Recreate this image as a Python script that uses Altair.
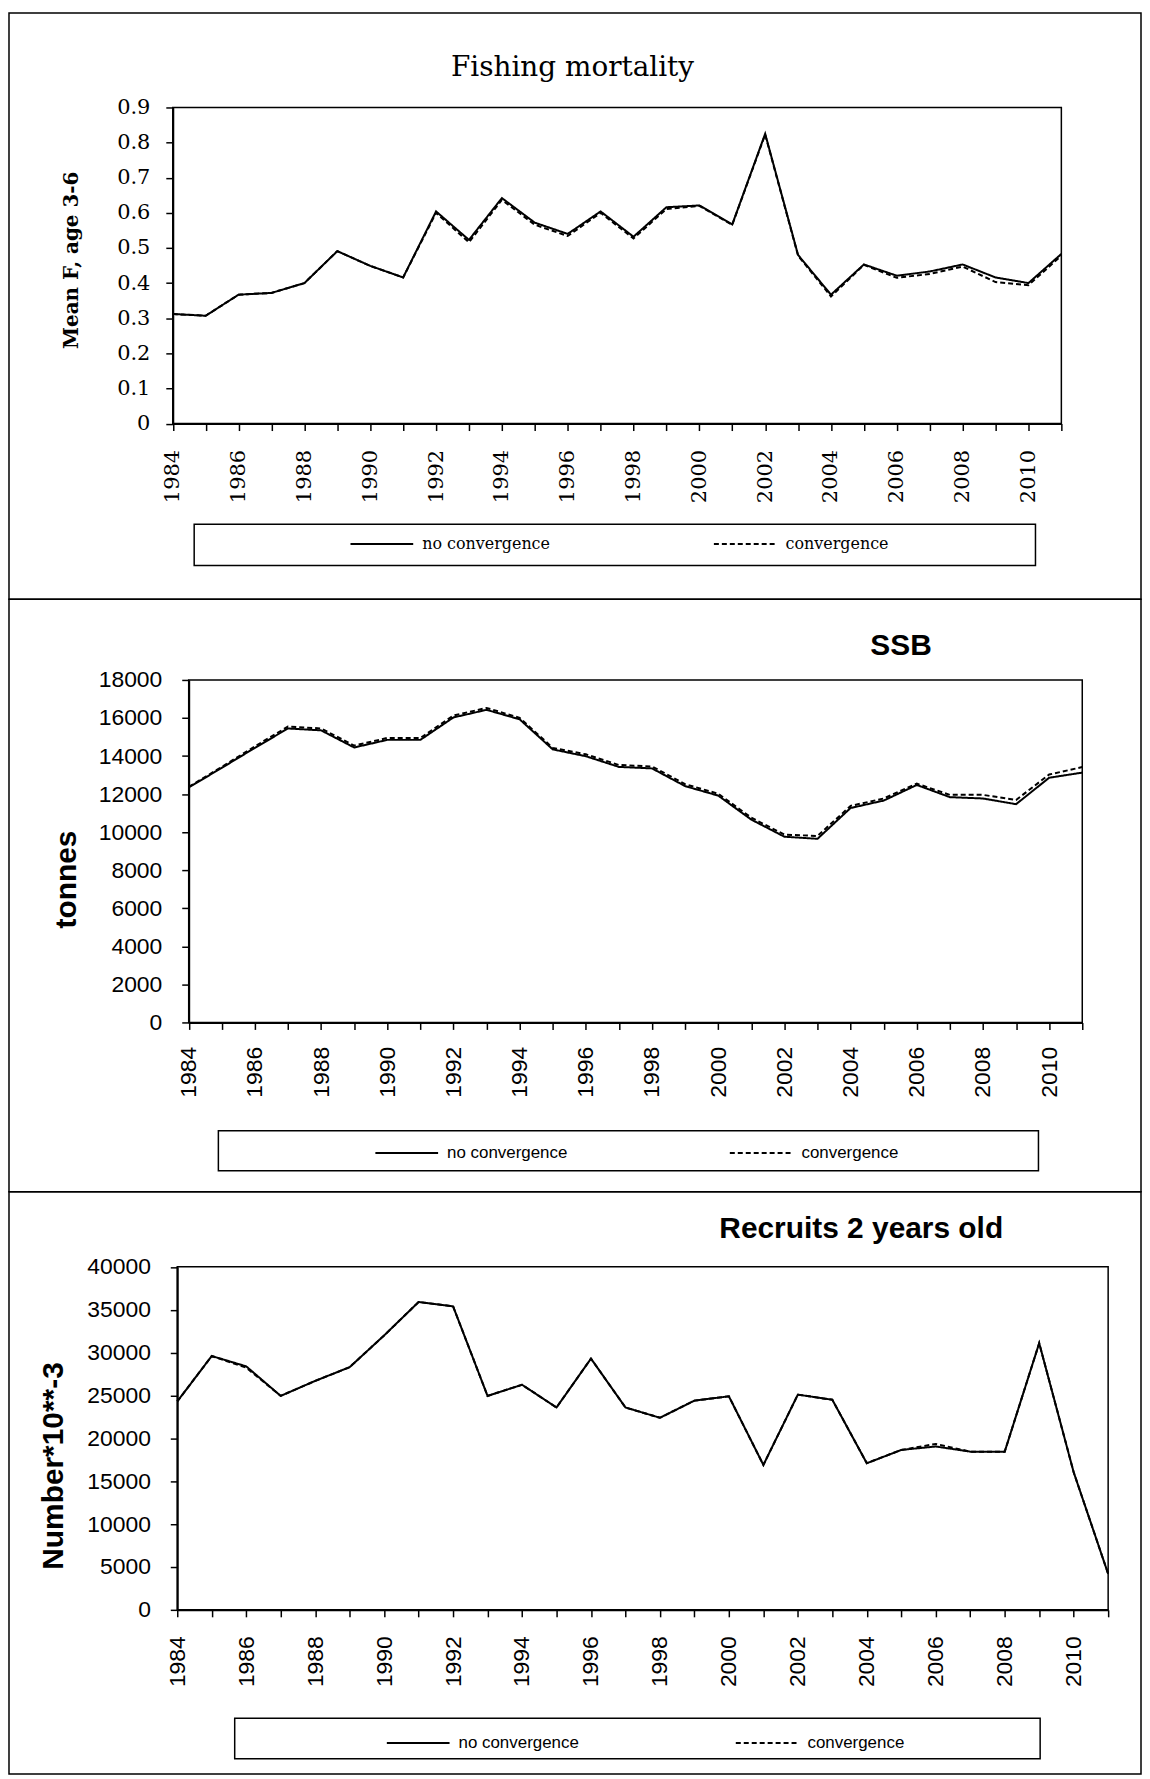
import altair as alt
import pandas as pd

years = [1984, 1985, 1986, 1987, 1988, 1989, 1990, 1991, 1992, 1993,
         1994, 1995, 1996, 1997, 1998, 1999, 2000, 2001, 2002, 2003,
         2004, 2005, 2006, 2007, 2008, 2009, 2010, 2011]
series_names = ["no convergence", "convergence"]

f_noconv = [0.312, 0.307, 0.367, 0.372, 0.400, 0.491, 0.449, 0.416, 0.604, 0.523,
            0.642, 0.572, 0.540, 0.604, 0.532, 0.616, 0.621, 0.567, 0.825, 0.480,
            0.367, 0.453, 0.421, 0.433, 0.453, 0.416, 0.400, 0.483]
f_conv = [0.312, 0.307, 0.367, 0.372, 0.400, 0.491, 0.449, 0.416, 0.600, 0.516,
          0.637, 0.566, 0.534, 0.600, 0.527, 0.611, 0.620, 0.566, 0.823, 0.478,
          0.362, 0.452, 0.415, 0.426, 0.447, 0.403, 0.394, 0.478]

ssb_noconv = [12350, 13380, 14430, 15450, 15350, 14450, 14850, 14850, 16030, 16430,
              15930, 14350, 13990, 13430, 13350, 12420, 11920, 10660, 9760, 9650,
              11270, 11660, 12480, 11840, 11770, 11470, 12860, 13130]
ssb_conv = [12380, 13430, 14510, 15550, 15450, 14550, 14950, 14950, 16130, 16530,
            16010, 14430, 14090, 13530, 13450, 12520, 12020, 10760, 9870, 9800,
            11380, 11770, 12550, 11960, 11960, 11690, 13030, 13420]

rec_noconv = [24300, 29600, 28400, 24950, 26700, 28300, 32000, 35900, 35400, 24950,
              26250, 23600, 29300, 23600, 22400, 24400, 24900, 16900, 25100, 24500,
              17100, 18650, 19050, 18450, 18450, 31100, 16050, 4200]
rec_conv = [24300, 29600, 28250, 24950, 26700, 28300, 32000, 35900, 35400, 24950,
            26250, 23600, 29300, 23600, 22400, 24400, 24900, 16900, 25100, 24500,
            17100, 18650, 19350, 18450, 18450, 31100, 16050, 4200]

f_ticks = [0, 0.1, 0.2, 0.3, 0.4, 0.5, 0.6, 0.7, 0.8, 0.9]
ssb_ticks = [0, 2000, 4000, 6000, 8000, 10000, 12000, 14000, 16000, 18000]
rec_ticks = [0, 5000, 10000, 15000, 20000, 25000, 30000, 35000, 40000]

PANEL_W = 1137


def long_df(a, b):
    return pd.DataFrame({
        "year": years + years,
        "value": a + b,
        "series": [series_names[0]] * len(years) + [series_names[1]] * len(years),
    })


def panel(df, cfg):
    font = cfg["font"]
    xr = cfg["xrange"]
    yr = cfg["yrange"]
    ymax = cfg["yticks"][-1]
    xscale = alt.Scale(domain=[years[0], years[-1]], range=xr, nice=False, zero=False)
    yscale = alt.Scale(domain=[0, ymax], range=yr, nice=False)

    lines = alt.Chart(df).mark_line(color="black", strokeWidth=2).encode(
        x=alt.X("year:Q", scale=xscale, axis=alt.Axis(
            values=years, orient="bottom", offset=cfg["xoffset"], title=None,
            labelExpr="datum.value % 2 == 0 ? '' + datum.value : ''",
            labelAngle=270, labelAlign="right", labelBaseline="middle",
            labelFont=font, labelFontSize=cfg["tickfs"], labelPadding=cfg["xlabpad"],
            labelOverlap=False, labelFlush=False, labelBound=False,
        )),
        y=alt.Y("value:Q", scale=yscale, axis=alt.Axis(
            values=cfg["yticks"], orient="left", offset=cfg["yoffset"],
            labelExpr=cfg["ylabexpr"], labelFont=font, labelFontSize=cfg["tickfs"],
            labelPadding=cfg["ylabpad"], labelOverlap=False, labelFlush=False,
            title=cfg["ytitle"], titleFont=font, titleFontSize=cfg["ytitlefs"],
            titleFontWeight=cfg["ytitlewt"], titleAngle=270, titleAlign="center",
            titleBaseline="middle", titleX=cfg["titleX"], titleY=cfg["titleY"],
        )),
        strokeDash=alt.StrokeDash("series:N", scale=alt.Scale(
            domain=series_names, range=[[1, 0], [5, 3]]),
            legend=alt.Legend(
                title=None, orient="none", legendX=cfg["legx"], legendY=cfg["legy"],
                direction="horizontal", symbolType="stroke", symbolSize=3969,
                symbolStrokeWidth=2, symbolStrokeColor="black", labelFont=font,
                labelFontSize=cfg["legfs"], labelColor="black", labelOffset=8,
                columnPadding=cfg["colpad"], padding=0,
            )),
    )

    one = pd.DataFrame({"k": [0]})
    frame = alt.Chart(one).mark_rect(fillOpacity=0, stroke="black", strokeWidth=1.5).encode(
        x=alt.X(datum=years[0]),
        x2=alt.X2(datum=years[-1]),
        y=alt.Y(datum=0),
        y2=alt.Y2(datum=ymax),
    )
    bx = cfg["box"]
    box = alt.Chart(one).mark_rect(fill="white", stroke="black", strokeWidth=1.5).encode(
        x=alt.value(bx[0]), x2=alt.value(bx[1]), y=alt.value(bx[2]), y2=alt.value(bx[3]),
    )
    title = alt.Chart(pd.DataFrame({"t": [cfg["title"]]})).mark_text(
        font=font, fontSize=cfg["titlefs"], fontWeight=cfg["titlewt"],
        align="center", baseline="alphabetic", color="black",
    ).encode(text="t:N", x=alt.value(cfg["titlepos"][0]), y=alt.value(cfg["titlepos"][1]))

    return alt.layer(lines, frame, box, title).properties(width=PANEL_W, height=cfg["H"])


serif = "DejaVu Serif"
sans = "Liberation Sans"

p1 = panel(long_df(f_noconv, f_conv), dict(
    font=serif, H=589, xrange=[164.5, 1057], yrange=[412.5, 95], yticks=f_ticks,
    xoffset=412.5 - 589, yoffset=-164.5, tickfs=21, xlabpad=19, ylabpad=16,
    ylabexpr="datum.value == 0 ? '0' : format(datum.value, '.1f')",
    ytitle="Mean F, age 3-6", ytitlefs=20, ytitlewt=600, titleX=-101.5, titleY=248,
    legx=342, legy=534.7 - 34, legfs=16, colpad=160,
    box=[186, 1031, 513.7, 555],
    title="Fishing mortality", titlefs=28, titlewt="normal", titlepos=[566, 63.7],
))

p2 = panel(long_df(ssb_noconv, ssb_conv), dict(
    font=sans, H=595, xrange=[180.5, 1078], yrange=[425, 81], yticks=ssb_ticks,
    xoffset=425 - 595, yoffset=-180.5, tickfs=23, xlabpad=17, ylabpad=20,
    ylabexpr="format(datum.value, 'd')",
    ytitle="tonnes", ytitlefs=30, ytitlewt="bold", titleX=-122.5, titleY=281,
    legx=367, legy=555.3 - 32, legfs=17, colpad=159,
    box=[210.3, 1034, 533.7, 574],
    title="SSB", titlefs=30, titlewt="bold", titlepos=[896, 56.3],
))

p3 = panel(long_df(rec_noconv, rec_conv), dict(
    font=sans, H=585, xrange=[169, 1104], yrange=[420, 75.5], yticks=rec_ticks,
    xoffset=420 - 585, yoffset=-169, tickfs=23, xlabpad=19, ylabpad=20,
    ylabexpr="format(datum.value, 'd')",
    ytitle="Number*10**-3", ytitlefs=30, ytitlewt="bold", titleX=-124, titleY=275,
    legx=378.5, legy=550 - 29, legfs=17, colpad=153.5,
    box=[226.7, 1035.7, 529, 569.5],
    title="Recruits 2 years old", titlefs=30, titlewt="bold", titlepos=[856, 47],
))

chart = alt.vconcat(p1, p2, p3, spacing=0, bounds="flush", padding=0).resolve_scale(
    strokeDash="independent"
).resolve_legend(
    strokeDash="independent"
).configure_view(
    stroke="black", strokeWidth=1.5
).configure_axis(
    grid=False, domainColor="black", tickColor="black", labelColor="black",
    titleColor="black", domainWidth=2, tickWidth=1.5, tickSize=7,
)

chart.save("out.html", embed_options={"renderer": "svg", "actions": False})
